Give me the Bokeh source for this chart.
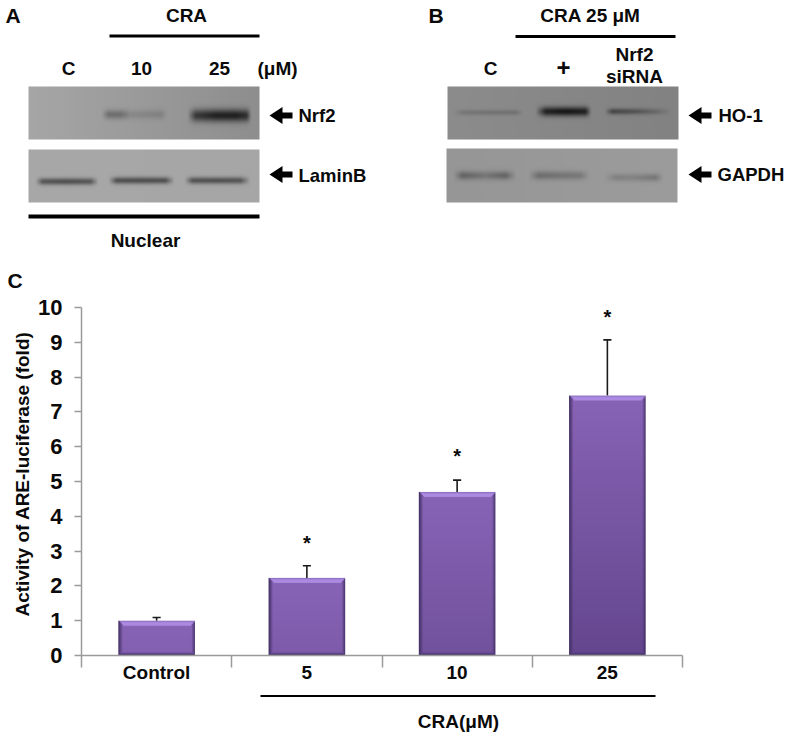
import numpy as np
from bokeh.plotting import figure
from bokeh.layouts import column, row
from bokeh.models import FixedTicker
from bokeh.core.properties import value
from bokeh.embed import file_html
from bokeh.resources import INLINE

# ---- chart data
categories = ["Control", "5", "10", "25"]
fold_values = [1.0, 2.23, 4.70, 7.47]
error_tops = [1.09, 2.58, 5.04, 9.07]
star_levels = [None, 3.22, 5.73, 9.73]
y_ticks = [0, 1, 2, 3, 4, 5, 6, 7, 8, 9, 10]
FONT = "Liberation Sans"

# ---- blot descriptions: box (x0, x1, y0, y1), background grey left/right,
# bands (centre y, half thickness, x control points, darkness control points)
blot_a1 = dict(box=(28, 259, 86, 139), bg=(166, 142), bands=[
    (114, 4.5, [101, 108, 120, 130, 145, 160, 167], [0, 45, 45, 18, 20, 24, 0]),
    (115, 6.2, [187, 195, 215, 235, 246, 251], [0, 90, 112, 112, 95, 0]),
])
blot_a2 = dict(box=(28, 259, 149, 202), bg=(168, 166), bands=[
    (181, 3.4, [35, 42, 65, 90, 98], [0, 80, 88, 80, 0]),
    (180, 3.4, [108, 116, 140, 165, 174], [0, 85, 88, 85, 0]),
    (180, 3.4, [184, 192, 215, 240, 250], [0, 82, 85, 80, 0]),
])
blot_b1 = dict(box=(447, 678, 86, 139), bg=(140, 130), bands=[
    (112, 2.6, [453, 462, 490, 515, 523], [0, 20, 24, 24, 0]),
    (111, 4.6, [535, 545, 565, 585, 591], [0, 100, 112, 100, 0]),
    (111, 3.0, [604, 612, 635, 655, 672], [0, 62, 48, 26, 0]),
])
blot_b2 = dict(box=(446, 677, 148, 202), bg=(150, 156), bands=[
    (175, 4.2, [453, 462, 485, 505, 516], [0, 50, 32, 50, 0]),
    (175, 4.2, [528, 538, 560, 580, 589], [0, 42, 36, 32, 0]),
    (177, 3.8, [603, 615, 635, 655, 663], [0, 24, 24, 36, 0]),
])


def blot_image(b):
    x0, x1, y0, y1 = b["box"]
    w, h = x1 - x0, y1 - y0
    xs = np.arange(w) + x0 + 0.5
    ys = np.arange(h) + y0 + 0.5
    g = np.tile(np.linspace(b["bg"][0], b["bg"][1], w), (h, 1))
    for cy, t, cx, cd in b["bands"]:
        prof = np.interp(xs, cx, cd)
        g -= np.outer(np.exp(-((ys - cy) / t) ** 2), prof)
    g = np.clip(g, 0, 255).astype(np.uint32)
    img = (255 << 24) | (g << 16) | (g << 8) | g
    return img.astype(np.uint32)


def panel(x0, x1):
    p = figure(width=x1 - x0, height=292, x_range=(x0, x1), y_range=(292, 0),
               toolbar_location=None, output_backend="svg", min_border=0,
               outline_line_color=None)
    p.axis.visible = False
    p.grid.visible = False
    return p


def put_blot(p, b):
    x0, x1, y0, y1 = b["box"]
    p.image_rgba(image=[blot_image(b)], x=x0, y=y0, dw=x1 - x0, dh=y1 - y0)


def label(p, x, y, s, size=19, align="center"):
    p.text([x], [y], text=[s], text_font=value(FONT), text_font_style="bold",
           text_font_size=f"{size}px", text_align=align, text_baseline="middle",
           text_color="#0a0a0a")


def arrow(p, tip, y):
    p.patch([tip, tip + 13, tip + 13, tip + 23, tip + 23, tip + 13, tip + 13],
            [y, y - 8.5, y - 3, y - 3, y + 3, y + 3, y + 8.5], color="#000000", line_width=0)


def hline(p, x0, x1, y, w):
    p.line([x0, x1], [y, y], line_color="#000000", line_width=w)


a = panel(0, 394)
put_blot(a, blot_a1)
put_blot(a, blot_a2)
label(a, 5, 15, "A", 21, "left")
label(a, 186, 15, "CRA")
hline(a, 109, 259, 35.5, 3)
label(a, 68, 68, "C")
label(a, 141, 68, "10")
label(a, 219, 68, "25")
label(a, 257, 68, "(μM)", 19, "left")
arrow(a, 269, 115)
label(a, 298, 115, "Nrf2", 18.5, "left")
arrow(a, 269, 174)
label(a, 298, 175, "LaminB", 18.5, "left")
hline(a, 28, 259, 216, 4)
label(a, 145, 240, "Nuclear")
label(a, 7, 280, "C", 21, "left")

b = panel(394, 788)
put_blot(b, blot_b1)
put_blot(b, blot_b2)
label(b, 428, 15, "B", 21, "left")
label(b, 590, 15, "CRA 25 μM")
hline(b, 515, 675, 36, 3)
label(b, 490, 68, "C")
label(b, 563, 67, "+", 24)
label(b, 634, 54, "Nrf2")
label(b, 634, 76, "siRNA")
arrow(b, 688, 115)
label(b, 718, 115, "HO-1", 18.5, "left")
arrow(b, 688, 174)
label(b, 717, 174, "GAPDH", 18.5, "left")

# ---- bar chart
UNIT = 34.8
CHART_TOP = 292
AXIS_Y = 655
BOTTOM = 690
LEFT, RIGHT = 81, 682
c = figure(width=788, height=BOTTOM - CHART_TOP, x_range=(0, 4),
           y_range=(0, (AXIS_Y - CHART_TOP) / UNIT),
           toolbar_location=None, output_backend="svg",
           min_border_left=LEFT, min_border_right=788 - RIGHT, min_border_top=0,
           min_border_bottom=BOTTOM - AXIS_Y, outline_line_color=None)
c.grid.visible = False
c.xaxis.ticker = FixedTicker(ticks=[0.5, 1.5, 2.5, 3.5], minor_ticks=[0, 1, 2, 3, 4])
c.xaxis.major_label_overrides = {0.5: categories[0], 1.5: categories[1],
                                 2.5: categories[2], 3.5: categories[3]}
c.xaxis.major_tick_line_color = None
c.xaxis.minor_tick_in = 0
c.xaxis.minor_tick_out = 12
c.xaxis.minor_tick_line_color = "#9a9a9a"
c.xaxis.minor_tick_line_width = 1.5
c.xaxis.axis_line_color = "#9a9a9a"
c.xaxis.axis_line_width = 1.5
c.xaxis.major_label_standoff = -6
c.xaxis.major_label_text_font = FONT
c.xaxis.major_label_text_font_style = "bold"
c.xaxis.major_label_text_font_size = "19px"
c.xaxis.major_label_text_color = "#0a0a0a"

c.yaxis.ticker = FixedTicker(ticks=y_ticks)
c.yaxis.bounds = (0, 10)
c.yaxis.minor_tick_line_color = None
c.yaxis.major_tick_in = 0
c.yaxis.major_tick_out = 7
c.yaxis.major_tick_line_color = "#9a9a9a"
c.yaxis.major_tick_line_width = 1.5
c.yaxis.axis_line_color = "#9a9a9a"
c.yaxis.axis_line_width = 1.5
c.yaxis.major_label_standoff = 12
c.yaxis.major_label_text_font = FONT
c.yaxis.major_label_text_font_style = "bold"
c.yaxis.major_label_text_font_size = "22px"
c.yaxis.major_label_text_color = "#0a0a0a"
c.yaxis.axis_label = "Activity of ARE-luciferase (fold)"
c.yaxis.axis_label_text_font = FONT
c.yaxis.axis_label_text_font_style = "bold"
c.yaxis.axis_label_text_font_size = "19px"
c.yaxis.axis_label_text_color = "#0a0a0a"
c.yaxis.axis_label_standoff = 2

BAR_W = 0.51
PX_W = 77


def mix(c1, c2, t):
    return np.array(c1) * (1 - t) + np.array(c2) * t


def bar_image(v):
    h = max(int(round(v * UNIT)), 8)
    w = PX_W
    out = np.zeros((h, w, 4), dtype=np.uint8)
    for r in range(h):
        tt = min(r / (7.5 * UNIT), 1)
        base = mix((136, 100, 182), (100, 70, 142), tt)
        for k in range(w):
            d_top, d_bot, d_l, d_r = r, h - 1 - r, k, w - 1 - k
            col = base
            if d_l < 4 and d_l <= d_top and d_l <= d_bot:
                col = mix((70, 50, 105), base, d_l / 4)
            elif d_r < 4 and d_r <= d_top and d_r <= d_bot:
                col = mix((62, 44, 95), base, d_r / 4)
            if d_top < 6 and d_top <= d_l and d_top <= d_r:
                col = mix((125, 100, 175), (172, 138, 226), min(d_top / 2.5, 1))
            if d_bot < 3 and d_bot <= d_l and d_bot <= d_r:
                col = mix((72, 52, 108), base, d_bot / 3)
            out[r, k, :3] = np.clip(col, 0, 255)
            out[r, k, 3] = 255
    return np.frombuffer(out[::-1].tobytes(), dtype=np.uint32).reshape(h, w)


centers = [i + 0.5 for i in range(len(categories))]
c.segment(centers, fold_values, centers, error_tops, line_color="#1a1a1a", line_width=1.6)
CAP = 0.027
c.segment([x - CAP for x in centers], error_tops, [x + CAP for x in centers], error_tops,
          line_color="#1a1a1a", line_width=1.6)
for x, v in zip(centers, fold_values):
    c.image_rgba(image=[bar_image(v)], x=x - BAR_W / 2, y=0, dw=BAR_W, dh=v)
sx = [x for x, s in zip(centers, star_levels) if s is not None]
sy = [s for s in star_levels if s is not None]
c.text(sx, sy, text=["*"] * len(sx), text_font=value(FONT), text_font_style="bold",
       text_font_size="20px", text_align="center", text_baseline="middle", text_color="#0a0a0a")

# this figure's frame lines up with the chart's frame inside the column
f = figure(width=788, height=737 - BOTTOM, x_range=(LEFT, RIGHT), y_range=(737, BOTTOM),
           toolbar_location=None, output_backend="svg", min_border=0, outline_line_color=None)
f.axis.visible = False
f.grid.visible = False
hline(f, 260, 655, 695.5, 2)
label(f, 458, 721, "CRA(μM)")

page = column(row(a, b, spacing=0), c, f, spacing=0)
open("out.html", "w").write(file_html(page, INLINE))
